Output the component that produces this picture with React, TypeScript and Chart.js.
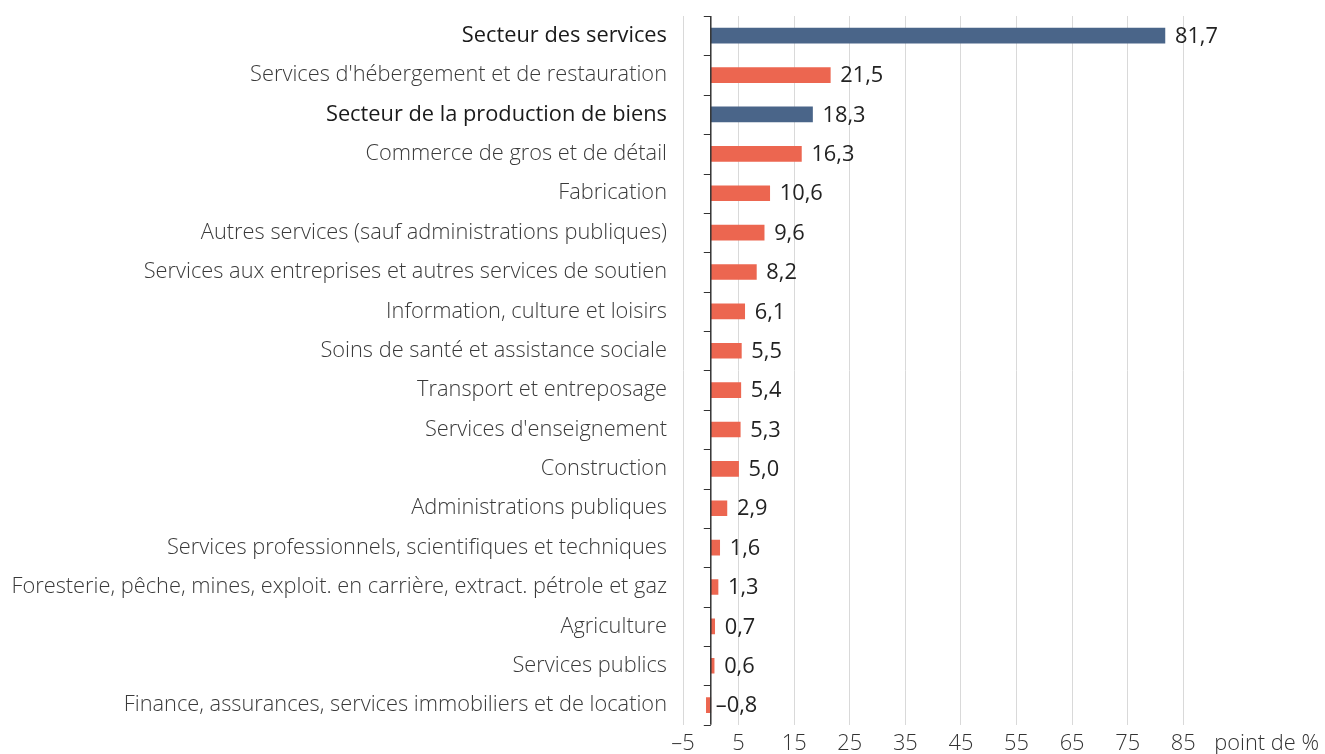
import React, { useEffect, useRef } from "react";
import { Chart, registerables } from "chart.js";

Chart.register(...registerables);

const categories = [
  "Secteur des services",
  "Services d'hébergement et de restauration",
  "Secteur de la production de biens",
  "Commerce de gros et de détail",
  "Fabrication",
  "Autres services (sauf administrations publiques)",
  "Services aux entreprises et autres services de soutien",
  "Information, culture et loisirs",
  "Soins de santé et assistance sociale",
  "Transport et entreposage",
  "Services d'enseignement",
  "Construction",
  "Administrations publiques",
  "Services professionnels, scientifiques et techniques",
  "Foresterie, pêche, mines, exploit. en carrière, extract. pétrole et gaz",
  "Agriculture",
  "Services publics",
  "Finance, assurances, services immobiliers et de location",
];

const values = [81.7, 21.5, 18.3, 16.3, 10.6, 9.6, 8.2, 6.1, 5.5, 5.4, 5.3, 5.0, 2.9, 1.6, 1.3, 0.7, 0.6, -0.8];

const sectorTotals = [true, false, true, false, false, false, false, false, false, false, false, false, false, false, false, false, false, false];

const xTickValues = [-5, 5, 15, 25, 35, 45, 55, 65, 75, 85];
const unitLabel = "point de %";
const unitTickValue = 100;

const BLUE = "#4a6589";
const RED = "#ec6650";
const FONT = "'Open Sans', 'Noto Sans', sans-serif";
const SIZE = 21.8;

const fmt = (v: number) => {
  const s = Math.abs(v).toFixed(1).replace(".", ",");
  return v < 0 ? "\u2013" + s : s;
};

const zeroAxisPlugin = {
  id: "zeroAxis",
  afterDatasetsDraw(chart: any) {
    const { ctx, scales } = chart;
    const x = scales.x;
    const y = scales.y;
    const x0 = x.getPixelForValue(0);
    const n = categories.length;
    const half = (y.getPixelForValue(1) - y.getPixelForValue(0)) / 2;
    const top = y.getPixelForValue(0) - half;
    const bottom = y.getPixelForValue(n - 1) + half;
    ctx.save();
    ctx.strokeStyle = "#333333";
    ctx.lineWidth = 1.5;
    ctx.beginPath();
    ctx.moveTo(x0, top);
    ctx.lineTo(x0, bottom);
    ctx.stroke();
    ctx.lineWidth = 1;
    for (let i = 0; i <= n; i++) {
      const yy = Math.round(y.getPixelForValue(i) - half) + 0.5;
      ctx.beginPath();
      ctx.moveTo(x0 - 7, yy);
      ctx.lineTo(x0, yy);
      ctx.stroke();
    }
    ctx.restore();
  },
};

const valueLabelPlugin = {
  id: "valueLabels",
  afterDatasetsDraw(chart: any) {
    const { ctx } = chart;
    const meta = chart.getDatasetMeta(0);
    ctx.save();
    ctx.font = `400 ${SIZE}px ${FONT}`;
    ctx.fillStyle = "#222222";
    ctx.textAlign = "left";
    ctx.textBaseline = "middle";
    meta.data.forEach((bar: any, i: number) => {
      const v = values[i];
      const px = Math.max(bar.x, bar.base) + (v < 0 ? 5 : 10);
      ctx.fillText(fmt(v), px, bar.y + 1);
    });
    ctx.restore();
  },
};

export default function App() {
  const ref = useRef<HTMLCanvasElement | null>(null);

  useEffect(() => {
    if (!ref.current) return;
    const chart = new Chart(ref.current, {
      type: "bar",
      data: {
        labels: categories,
        datasets: [
          {
            data: values,
            backgroundColor: sectorTotals.map((s) => (s ? BLUE : RED)),
            barThickness: 15,
            borderWidth: 0,
          },
        ],
      },
      options: {
        indexAxis: "y",
        animation: false,
        responsive: true,
        maintainAspectRatio: false,
        layout: { padding: { top: 16, right: 55, bottom: -9, left: 0 } },
        plugins: {
          legend: { display: false },
          tooltip: { enabled: false },
        },
        scales: {
          x: {
            type: "linear",
            min: -5,
            max: unitTickValue,
            afterBuildTicks(axis: any) {
              axis.ticks = [...xTickValues, unitTickValue].map((v) => ({ value: v }));
            },
            ticks: {
              autoSkip: false,
              maxRotation: 0,
              padding: 6,
              color: "#333333",
              font: { family: FONT, size: SIZE, weight: 300 as any },
              callback: (v: any) => (v === unitTickValue ? unitLabel : fmt(Number(v)).replace(",0", "")),
            },
            grid: {
              drawTicks: false,
              color: (c: any) => (c.tick && c.tick.value === unitTickValue ? "rgba(0,0,0,0)" : "#d9d9d9"),
              lineWidth: 1,
            },
            border: { display: false },
          },
          y: {
            afterFit(axis: any) {
              axis.width = 683;
              axis.paddingTop = 0;
              axis.paddingBottom = 0;
            },
            ticks: {
              padding: 16,
              autoSkip: false,
              color: (c: any) => (sectorTotals[c.index] ? "#1a1a1a" : "#3a3a3a"),
              font: (c: any) => ({
                family: FONT,
                size: SIZE,
                weight: (sectorTotals[c.index] ? 400 : 300) as any,
              }),
            },
            grid: { display: false, drawTicks: false },
            border: { display: false },
          },
        },
      },
      plugins: [zeroAxisPlugin, valueLabelPlugin],
    });
    return () => chart.destroy();
  }, []);

  return (
    <div style={{ position: "fixed", left: 0, top: 0, width: 1325, height: 754, background: "#ffffff" }}>
      <canvas ref={ref} />
    </div>
  );
}
